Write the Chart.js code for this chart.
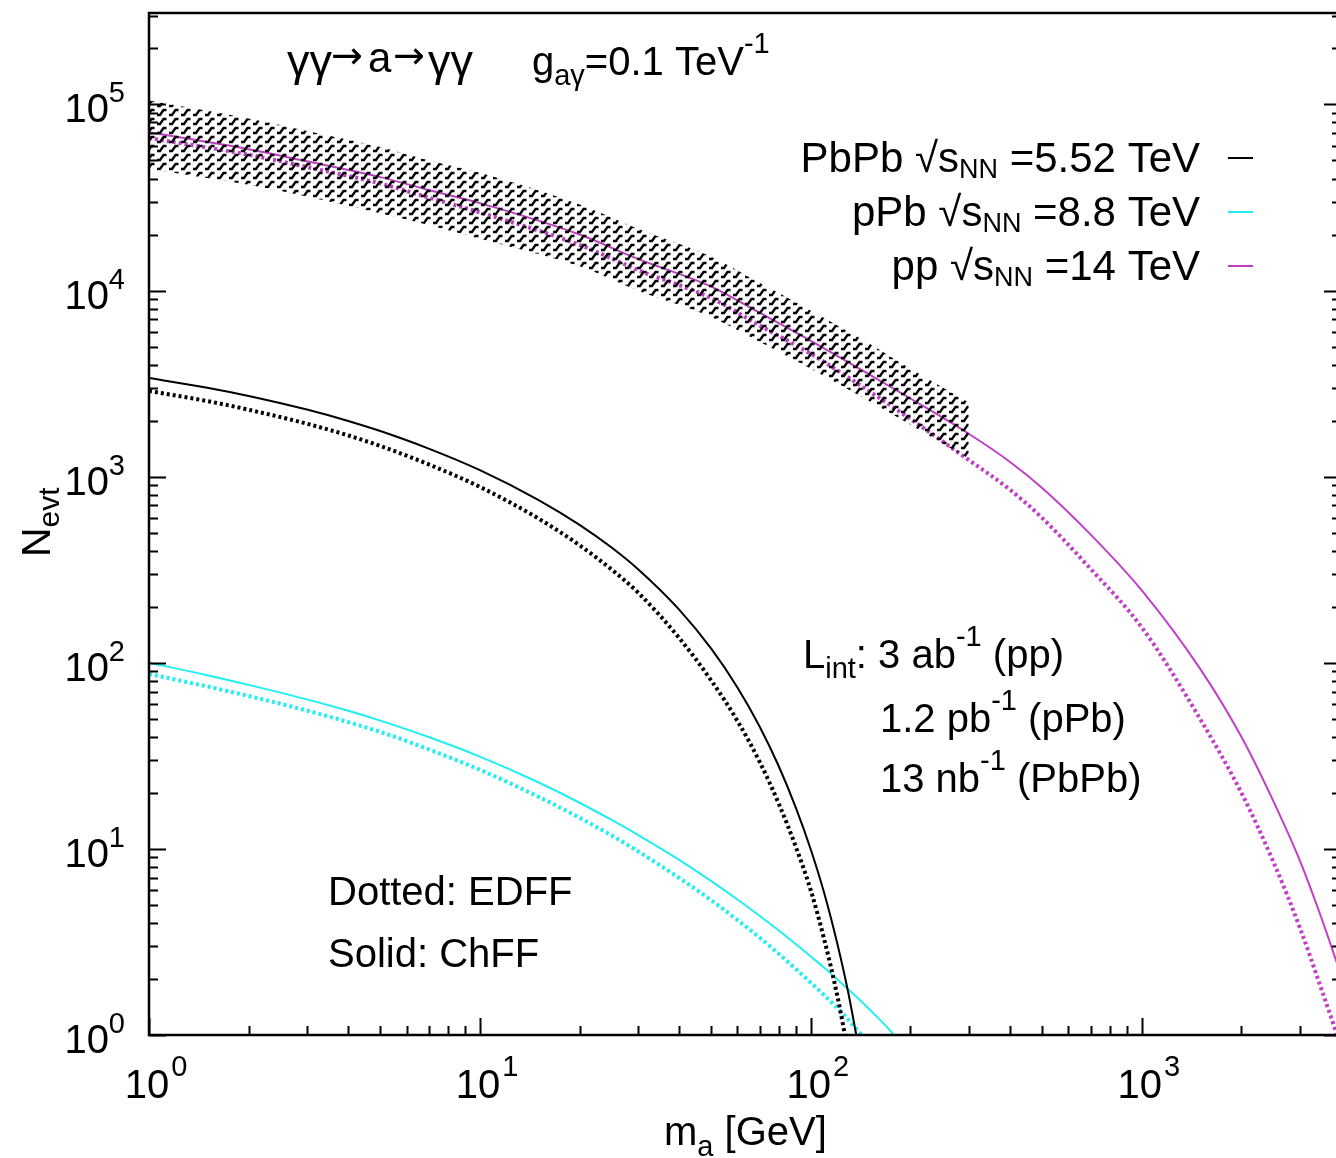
<!DOCTYPE html>
<html>
<head>
<meta charset="utf-8">
<title>N_evt vs m_a</title>
<script src="https://cdn.jsdelivr.net/npm/chart.js@4.4.0/dist/chart.umd.min.js"></script>
<style>
  html, body { margin: 0; padding: 0; background: #fff; overflow: hidden; }
  #wrap { width: 1336px; height: 1158px; overflow: hidden; }
</style>
</head>
<body>
<div id="wrap"><canvas id="chart" width="1342" height="1158"></canvas></div>
<script>
// axion mass grid (GeV) and event counts for each collision system
const ppMass = [1, 2, 3, 5, 7, 10, 20, 30, 50, 70, 100, 150, 200, 300, 400, 500, 700, 1000, 1500, 2000, 2500, 3000, 3500, 4000];
const ppChFF = [70800, 57500, 49500, 40700, 34700, 29500, 20000, 14800, 10500, 7600, 5370, 3550, 2630, 1700, 1200, 870, 490, 245, 93, 40, 18, 8.7, 4.2, 2.1];
const ppEDFF = [66000, 53700, 46100, 37600, 31600, 26300, 17600, 12900, 9100, 6500, 4570, 2880, 2040, 1230, 850, 600, 320, 155, 50, 20, 8.5, 3.8, 1.74, 0.87];

// uncertainty band on the pp prediction
const bandMass = [1, 2, 3, 5, 7, 10, 20, 30, 50, 70, 100, 150, 200, 300];
const bandUpper = [105000, 84000, 72000, 59000, 50000, 43000, 29000, 21500, 15200, 11000, 7800, 5200, 3800, 2500];
const bandLower = [45000, 37000, 32000, 26000, 22500, 19000, 13500, 10000, 7200, 5300, 3800, 2550, 1900, 1250];

const pbpbChMass = [1, 1.5, 2, 3, 4, 5, 7, 10, 15, 20, 25, 30, 40, 50, 60, 70, 80, 90, 100, 110, 120, 130, 140];
const pbpbChFF = [3390, 3006, 2715, 2294, 1993, 1758, 1415, 1084, 751, 551, 416, 319, 193, 119, 73.7, 45.5, 27.8, 16.7, 9.9, 5.71, 3.14, 1.66, 0.82];
const pbpbEdMass = [1, 1.5, 2, 3, 4, 5, 7, 10, 15, 20, 25, 30, 40, 50, 60, 70, 80, 90, 100, 110, 120, 130];
const pbpbEDFF = [2884, 2547, 2289, 1925, 1665, 1462, 1164, 881, 597, 428, 317, 239, 136, 80.3, 48.7, 29.4, 17.5, 10.3, 5.97, 3.21, 1.65, 0.79];

const ppbChMass = [1, 1.5, 2, 3, 4, 5, 7, 10, 15, 20, 25, 30, 40, 50, 60, 70, 80, 90, 100, 110, 127, 150, 175, 190];
const ppbChFF = [100, 85.8, 76.1, 63.6, 55.2, 48.9, 39.9, 31.3, 22.8, 17.7, 14.3, 11.9, 8.73, 6.71, 5.35, 4.37, 3.64, 3.08, 2.64, 2.29, 1.82, 1.38, 1.04, 0.86];
const ppbEdMass = [1, 1.5, 2, 3, 4, 5, 7, 10, 15, 20, 25, 30, 40, 50, 60, 70, 80, 90, 100, 110, 125, 145, 160];
const ppbEDFF = [87.1, 74.6, 66.3, 55.4, 48.0, 42.5, 34.3, 26.6, 19.1, 14.7, 11.8, 9.72, 6.98, 5.30, 4.15, 3.34, 2.73, 2.27, 1.91, 1.63, 1.30, 0.965, 0.79];

const xDecades = [1, 10, 100, 1000];
const yDecades = [1, 10, 100, 1000, 10000, 100000];

const BLACK = '#000000';
const CYAN = '#20eef0';
const MAGENTA = '#c13fc6';
const FONT = '"Liberation Sans", Arial, sans-serif';

function pts(xs, ys) {
    return xs.map((x, i) => ({ x: x, y: ys[i] }));
}

// zig-zag hatching used for the band
function makeHatch() {
    const c = document.createElement('canvas');
    c.width = 12;
    c.height = 9;
    const g = c.getContext('2d');
    g.strokeStyle = '#000';
    g.lineWidth = 2.3;
    g.beginPath();
    g.moveTo(1, 7);
    g.lineTo(4, 7);
    g.lineTo(7.5, 2);
    g.lineTo(10.5, 2);
    g.stroke();
    return g.createPattern(c, 'repeat');
}

function line(label, data, color, dotted, width) {
    return {
        label: label,
        data: data,
        borderColor: color,
        borderWidth: width,
        borderDash: dotted ? [3, 3] : [],
        pointRadius: 0,
        fill: false,
        cubicInterpolationMode: 'monotone',
        order: 2
    };
}

// draws a run of text pieces: [text, size, dy, family]
function drawRich(ctx, x, y, parts, align) {
    let w = 0;
    parts.forEach(p => {
        ctx.font = p[1] + 'px ' + (p[3] || FONT);
        w += ctx.measureText(p[0]).width;
    });
    let cx = x;
    if (align === 'right') cx = x - w;
    if (align === 'center') cx = x - w / 2;
    parts.forEach(p => {
        ctx.font = p[1] + 'px ' + (p[3] || FONT);
        ctx.fillText(p[0], cx, y + (p[2] || 0));
        cx += ctx.measureText(p[0]).width;
    });
    return w;
}

const frame = {
    id: 'frame',
    afterDraw(chart) {
        const { ctx, chartArea: a, scales } = chart;
        const xs = scales.x, ys = scales.y;
        ctx.save();
        ctx.strokeStyle = '#000';
        ctx.fillStyle = '#000';

        // ticks: x on the bottom only, y on both sides
        ctx.lineWidth = 2;
        ctx.beginPath();
        xDecades.forEach(d => {
            for (let k = 1; k <= 9; k++) {
                const v = d * k;
                if (v > xs.max) break;
                const px = Math.round(xs.getPixelForValue(v)) + 0.5;
                const len = k === 1 ? 17 : 9;
                ctx.moveTo(px, a.bottom);
                ctx.lineTo(px, a.bottom - len);
            }
        });
        yDecades.forEach(d => {
            for (let k = 1; k <= 9; k++) {
                const v = d * k;
                if (v > ys.max) break;
                const py = Math.round(ys.getPixelForValue(v)) + 0.5;
                const len = k === 1 ? 17 : 9;
                ctx.moveTo(a.left, py);
                ctx.lineTo(a.left + len, py);
                ctx.moveTo(a.right, py);
                ctx.lineTo(a.right - len, py);
            }
        });
        ctx.stroke();

        ctx.lineWidth = 2.5;
        ctx.strokeRect(a.left, a.top, a.right - a.left, a.bottom - a.top);

        // tick labels
        ctx.textBaseline = 'alphabetic';
        xDecades.forEach((d, i) => {
            const px = xs.getPixelForValue(d);
            ctx.font = '40px ' + FONT;
            const w10 = ctx.measureText('10').width;
            ctx.fillText('10', px - w10 / 2 - 2, 1098);
            ctx.font = '29px ' + FONT;
            ctx.fillText(String(i), px + w10 / 2, 1076);
        });
        yDecades.forEach((d, i) => {
            const py = ys.getPixelForValue(d);
            ctx.font = '29px ' + FONT;
            const we = ctx.measureText(String(i)).width;
            ctx.fillText(String(i), 125 - we, py - 2);
            ctx.font = '40px ' + FONT;
            const w10 = ctx.measureText('10').width;
            ctx.fillText('10', 125 - we - w10, py + 18);
        });

        // axis titles
        drawRich(ctx, 664, 1145, [['m', 40], ['a', 29, 11], [' [GeV]', 40]], 'left');
        ctx.save();
        ctx.translate(50, 557);
        ctx.rotate(-Math.PI / 2);
        drawRich(ctx, 0, 0, [['N', 41], ['evt', 30, 9]], 'left');
        ctx.restore();

        // process and coupling
        const ARROW = '"DejaVu Sans", sans-serif';
        drawRich(ctx, 287, 76, [['γγ', 45]], 'left');
        drawRich(ctx, 331, 68, [['→', 38, 0, ARROW]], 'left');
        drawRich(ctx, 368, 72, [['a', 42]], 'left');
        drawRich(ctx, 393, 68, [['→', 38, 0, ARROW]], 'left');
        drawRich(ctx, 428, 76, [['γγ', 45]], 'left');
        drawRich(ctx, 532, 75, [['g', 40], ['aγ', 29, 10], ['=0.1 TeV', 40], ['-1', 29, -22]], 'left');

        // legend
        const legend = [
            ['PbPb √s', ' =5.52 TeV', BLACK, 172],
            ['pPb √s', ' =8.8 TeV', CYAN, 226],
            ['pp √s', ' =14 TeV', MAGENTA, 280]
        ];
        legend.forEach(e => {
            ctx.fillStyle = '#000';
            drawRich(ctx, 1200, e[3], [[e[0], 42], ['NN', 27, 6], [e[1], 42]], 'right');
            ctx.strokeStyle = e[2];
            ctx.lineWidth = 2;
            ctx.beginPath();
            ctx.moveTo(1228, e[3] - 14);
            ctx.lineTo(1253, e[3] - 14);
            ctx.stroke();
        });

        // luminosities
        ctx.fillStyle = '#000';
        drawRich(ctx, 803, 668, [['L', 40], ['int', 29, 10], [': 3 ab', 40], ['-1', 29, -22], [' (pp)', 40]], 'left');
        drawRich(ctx, 880, 732, [['1.2 pb', 40], ['-1', 29, -22], [' (pPb)', 40]], 'left');
        drawRich(ctx, 880, 792, [['13 nb', 40], ['-1', 29, -22], [' (PbPb)', 40]], 'left');

        drawRich(ctx, 328, 905, [['Dotted: EDFF', 40]], 'left');
        drawRich(ctx, 328, 967, [['Solid: ChFF', 40]], 'left');
        ctx.restore();
    }
};

const ctx = document.getElementById('chart').getContext('2d');

const datasets = [
    {
        label: 'band',
        data: pts(bandMass, bandUpper),
        borderWidth: 0,
        pointRadius: 0,
        backgroundColor: makeHatch(),
        fill: '+1',
        cubicInterpolationMode: 'monotone',
        order: 0
    },
    {
        label: 'band-low',
        data: pts(bandMass, bandLower),
        borderWidth: 0,
        pointRadius: 0,
        fill: false,
        cubicInterpolationMode: 'monotone',
        order: 0
    },
    line('pp EDFF', pts(ppMass, ppEDFF), MAGENTA, true, 4),
    line('pp ChFF', pts(ppMass, ppChFF), MAGENTA, false, 2),
    line('PbPb EDFF', pts(pbpbEdMass, pbpbEDFF), BLACK, true, 4),
    line('PbPb ChFF', pts(pbpbChMass, pbpbChFF), BLACK, false, 2),
    line('pPb EDFF', pts(ppbEdMass, ppbEDFF), CYAN, true, 4),
    line('pPb ChFF', pts(ppbChMass, ppbChFF), CYAN, false, 2)
];

new Chart(ctx, {
    type: 'line',
    data: { datasets: datasets },
    options: {
        responsive: false,
        animation: false,
        devicePixelRatio: 1,
        layout: { padding: { left: 149, top: 13, right: 1, bottom: 123 } },
        plugins: {
            legend: { display: false },
            tooltip: { enabled: false },
            filler: { propagate: false }
        },
        scales: {
            x: { type: 'logarithmic', min: 1, max: 4000, display: false },
            y: { type: 'logarithmic', min: 1, max: 310000, display: false }
        }
    },
    plugins: [frame]
});
</script>
</body>
</html>
